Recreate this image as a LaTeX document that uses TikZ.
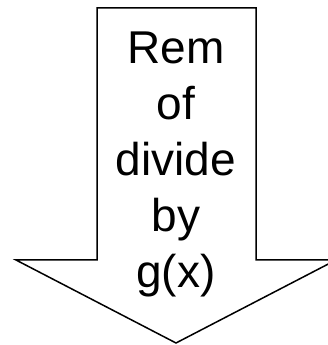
\documentclass[tikz,border=0pt]{standalone}
\usepackage{fontspec}
\setmainfont{Liberation Sans}
\usetikzlibrary{positioning}

\begin{document}
\begin{tikzpicture}[x=1pt, y=1pt,
		outline/.style={draw=black, line width=1.5pt, line join=miter},
		label/.style={align=center, inner sep=0pt, font=\fontsize{46}{56}\selectfont}
		]
		\useasboundingbox (0,0) rectangle (327,345);
		\coordinate (tip) at (176,2);
		\draw[outline] (97,337) -- (256,337) -- (256,85) -- (336,85) -- (tip) -- (16,85) -- (97,85) -- cycle;
		\node[label, anchor=north] (rem) at (176,313) {Rem\\of\\divide\\by\\g(x)};
		
	\end{tikzpicture}
\end{document}
